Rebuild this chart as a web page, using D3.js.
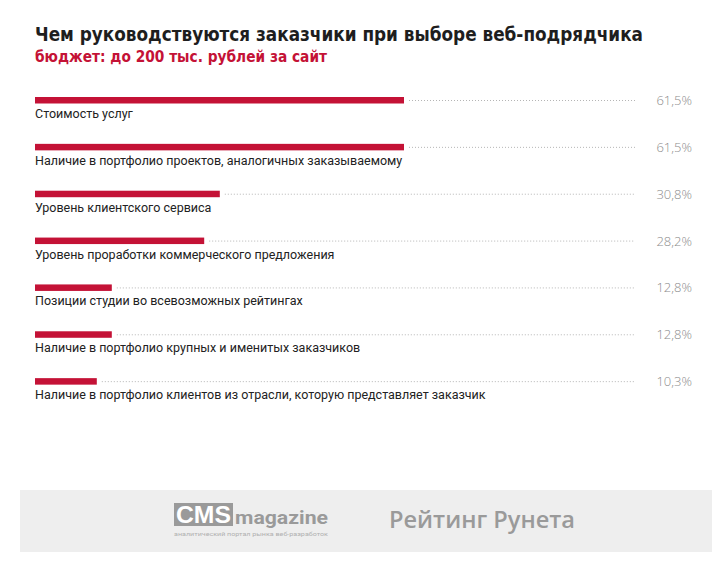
<!DOCTYPE html>
<html><head><meta charset="utf-8">
<script src="https://cdn.jsdelivr.net/npm/d3@7"></script>
<style>
html,body{margin:0;padding:0;background:#fff;}
svg{display:block;}
</style></head>
<body>
<svg id="chart" width="724" height="572"></svg>
<script>
const title = "Чем руководствуются заказчики при выборе веб-подрядчика";
const subtitle = "бюджет: до 200 тыс. рублей за сайт";
const categories = [
  "Стоимость услуг",
  "Наличие в портфолио проектов, аналогичных заказываемому",
  "Уровень клиентского сервиса",
  "Уровень проработки коммерческого предложения",
  "Позиции студии во всевозможных рейтингах",
  "Наличие в портфолио крупных и именитых заказчиков",
  "Наличие в портфолио клиентов из отрасли, которую представляет заказчик"
];
const values = [61.5, 61.5, 30.8, 28.2, 12.8, 12.8, 10.3];
const valueLabels = ["61,5%", "61,5%", "30,8%", "28,2%", "12,8%", "12,8%", "10,3%"];

const svg = d3.select("#chart");
const red = "#c41236";

const x = d3.scaleLinear().domain([0, 100]).range([35, 635]);
const y = d3.scaleBand().domain(d3.range(categories.length)).range([77, 405]).paddingInner(0);

// Title
svg.append("text").attr("x", 35).attr("y", 41)
  .attr("font-family", "'Liberation Sans Narrow','DejaVu Sans Condensed','Roboto',sans-serif")
  .attr("font-weight", "bold").attr("font-size", 20).attr("fill", "#1e1e1e")
  .attr("textLength", 608).attr("lengthAdjust", "spacingAndGlyphs")
  .text(title);
svg.append("text").attr("x", 35).attr("y", 62)
  .attr("font-family", "'Liberation Sans Narrow','DejaVu Sans Condensed','Roboto',sans-serif")
  .attr("font-weight", "bold").attr("font-size", 16.5).attr("fill", red)
  .attr("textLength", 292).attr("lengthAdjust", "spacingAndGlyphs")
  .text(subtitle);

const rows = svg.selectAll("g.row").data(values).join("g").attr("class", "row")
  .attr("transform", (d, i) => `translate(0,${y(i)})`);

// Dotted guide to 100%
rows.append("line")
  .attr("x1", d => x(d) + 5).attr("x2", x(100))
  .attr("y1", 23.5).attr("y2", 23.5)
  .attr("stroke", "#b5b5b5").attr("stroke-width", 1)
  .attr("stroke-dasharray", "1,2");

rows.append("rect")
  .attr("x", x(0)).attr("y", 20)
  .attr("width", d => x(d) - x(0)).attr("height", 6.5)
  .attr("fill", red);

rows.append("text")
  .attr("x", 35).attr("y", 41)
  .attr("font-family", "'Roboto','Open Sans',sans-serif")
  .attr("font-size", 12.5).attr("fill", "#222")
  .text((d, i) => categories[i]);

rows.append("text")
  .attr("x", 692).attr("y", 28).attr("text-anchor", "end")
  .attr("font-family", "'Open Sans','Lato',sans-serif")
  .attr("font-weight", 300)
  .attr("font-size", 13).attr("fill", "#8c8c8c")
  .text((d, i) => valueLabels[i]);

// Footer
svg.append("rect").attr("x", 20).attr("y", 490).attr("width", 692).attr("height", 62).attr("fill", "#eeeeee");
svg.append("rect").attr("x", 174).attr("y", 503).attr("width", 59).attr("height", 23).attr("fill", "#9a9a9a");
svg.append("text").attr("x", 203.5).attr("y", 523).attr("text-anchor", "middle")
  .attr("font-family", "'Liberation Sans','Roboto',sans-serif").attr("font-weight", "bold")
  .attr("font-size", 24).attr("fill", "#fff")
  .attr("textLength", 55).attr("lengthAdjust", "spacingAndGlyphs").text("CMS");
svg.append("text").attr("x", 235).attr("y", 524)
  .attr("font-family", "'Liberation Sans Narrow','Roboto',sans-serif").attr("font-weight", "bold")
  .attr("font-size", 18).attr("fill", "#9a9a9a")
  .attr("textLength", 93).attr("lengthAdjust", "spacingAndGlyphs").text("magazine");
svg.append("text").attr("x", 174).attr("y", 536)
  .attr("font-family", "'Roboto',sans-serif")
  .attr("font-size", 5.5).attr("fill", "#b0b0b0")
  .attr("textLength", 154).attr("lengthAdjust", "spacingAndGlyphs").text("аналитический портал рынка веб-разработок");
svg.append("text").attr("x", 389).attr("y", 528)
  .attr("font-family", "'Open Sans','Roboto',sans-serif").attr("font-weight", 600)
  .attr("font-size", 23).attr("fill", "#9a9a9a")
  .attr("textLength", 186).attr("lengthAdjust", "spacingAndGlyphs").text("Рейтинг Рунета");
</script>
</body></html>
